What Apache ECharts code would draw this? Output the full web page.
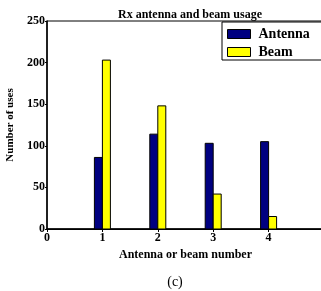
<!DOCTYPE html>
<html>
<head>
<meta charset="utf-8">
<script src="https://cdn.jsdelivr.net/npm/echarts@6/dist/echarts.min.js"></script>
<style>
html,body{margin:0;padding:0;background:#fff;}
#main{width:321px;height:291px;}
</style>
</head>
<body>
<div id="main"></div>
<script>
var xTicks = ['0', '1', '2', '3', '4', '5'];
var antennaUses = [null, 86, 114, 103, 105, null];
var beamUses = [null, 203, 148, 42, 15, null];
var serif = '"Liberation Serif", "Times New Roman", serif';

// [category index, value] pairs, skipping empty ticks
function pairs(vals) {
	var d = [];
	for (var i = 0; i < vals.length; i++) {
		if (vals[i] != null) d.push([i, vals[i]]);
	}
	return d;
}

// two 8px bars side by side, antenna left of the tick, beam right of it
function barItem(params, api) {
	var w = 8;
	var top = api.coord([api.value(0), api.value(1)]);
	var base = api.coord([api.value(0), 0]);
	var x = params.seriesIndex === 0 ? top[0] - w : top[0];
	return {
		type: 'rect',
		shape: {x: x, y: top[1], width: w, height: base[1] - top[1]},
		style: {fill: api.visual('color'), stroke: '#000', lineWidth: 1}
	};
}

var myChart = echarts.init(document.getElementById('main'));
var option = {
	animation: false,
	title: [{
		text: 'Rx antenna and beam usage',
		left: 185, top: 4, textAlign: 'center',
		textStyle: {fontFamily: serif, fontWeight: 'bold', fontSize: 12, color: '#000'}
	}, {
		text: '(c)',
		left: 170, top: 270, textAlign: 'center',
		textStyle: {fontFamily: serif, fontWeight: 'normal', fontSize: 14, color: '#000'}
	}],
	legend: {
		left: 222, top: 22,
		orient: 'vertical',
		icon: 'rect',
		itemWidth: 23, itemHeight: 9, itemGap: 4,
		padding: [5, 40, 1, 5],
		borderColor: '#000', borderWidth: 1,
		itemStyle: {borderColor: '#000', borderWidth: 1},
		textStyle: {fontFamily: serif, fontWeight: 'bold', fontSize: 14, color: '#000', padding: [0, 0, 0, 3]},
		data: ['Antenna', 'Beam']
	},
	grid: {left: 47, right: -3, top: 21, bottom: 62, outerBoundsMode: 'none', show: true, borderColor: '#000', borderWidth: 1, backgroundColor: 'transparent'},
	xAxis: [{
		type: 'category', data: xTicks, boundaryGap: false,
		name: 'Antenna or beam number', nameLocation: 'middle', nameGap: 8,
		nameTextStyle: {fontFamily: serif, fontWeight: 'bold', fontSize: 12, color: '#000'},
		axisLine: {lineStyle: {color: '#000', width: 1.5}},
		axisTick: {show: false},
		axisLabel: {fontFamily: serif, fontWeight: 'bold', fontSize: 12, color: '#000', margin: 3,
			formatter: function (v) { return v === '5' ? '' : v; }},
		splitLine: {show: false}
	}, {
		type: 'category', data: xTicks, boundaryGap: false, position: 'top',
		axisLine: {lineStyle: {color: '#000'}},
		axisTick: {inside: true, length: 3, alignWithLabel: true, lineStyle: {color: '#000'}},
		axisLabel: {show: false}, splitLine: {show: false}
	}],
	yAxis: [{
		type: 'value', min: 0, max: 250, interval: 50,
		name: 'Number of uses', nameLocation: 'middle', nameGap: 23,
		nameTextStyle: {fontFamily: serif, fontWeight: 'bold', fontSize: 11, color: '#000'},
		axisLine: {show: true, lineStyle: {color: '#000', width: 1.5}},
		axisTick: {show: true, length: 2, lineStyle: {color: '#000'}},
		axisLabel: {fontFamily: serif, fontWeight: 'bold', fontSize: 12, color: '#000', margin: 2},
		splitLine: {show: false}
	}, {
		type: 'value', min: 0, max: 250, interval: 50, position: 'right',
		axisLine: {show: true, lineStyle: {color: '#000'}},
		axisTick: {show: true, inside: true, length: 3, lineStyle: {color: '#000'}},
		axisLabel: {show: false}, splitLine: {show: false}
	}],
	series: [{
		name: 'Antenna', type: 'custom', renderItem: barItem,
		encode: {x: 0, y: 1},
		itemStyle: {color: '#000080'},
		data: pairs(antennaUses)
	}, {
		name: 'Beam', type: 'custom', renderItem: barItem,
		encode: {x: 0, y: 1},
		itemStyle: {color: '#ffff00'},
		data: pairs(beamUses)
	}]
};
myChart.setOption(option);
</script>
</body>
</html>
